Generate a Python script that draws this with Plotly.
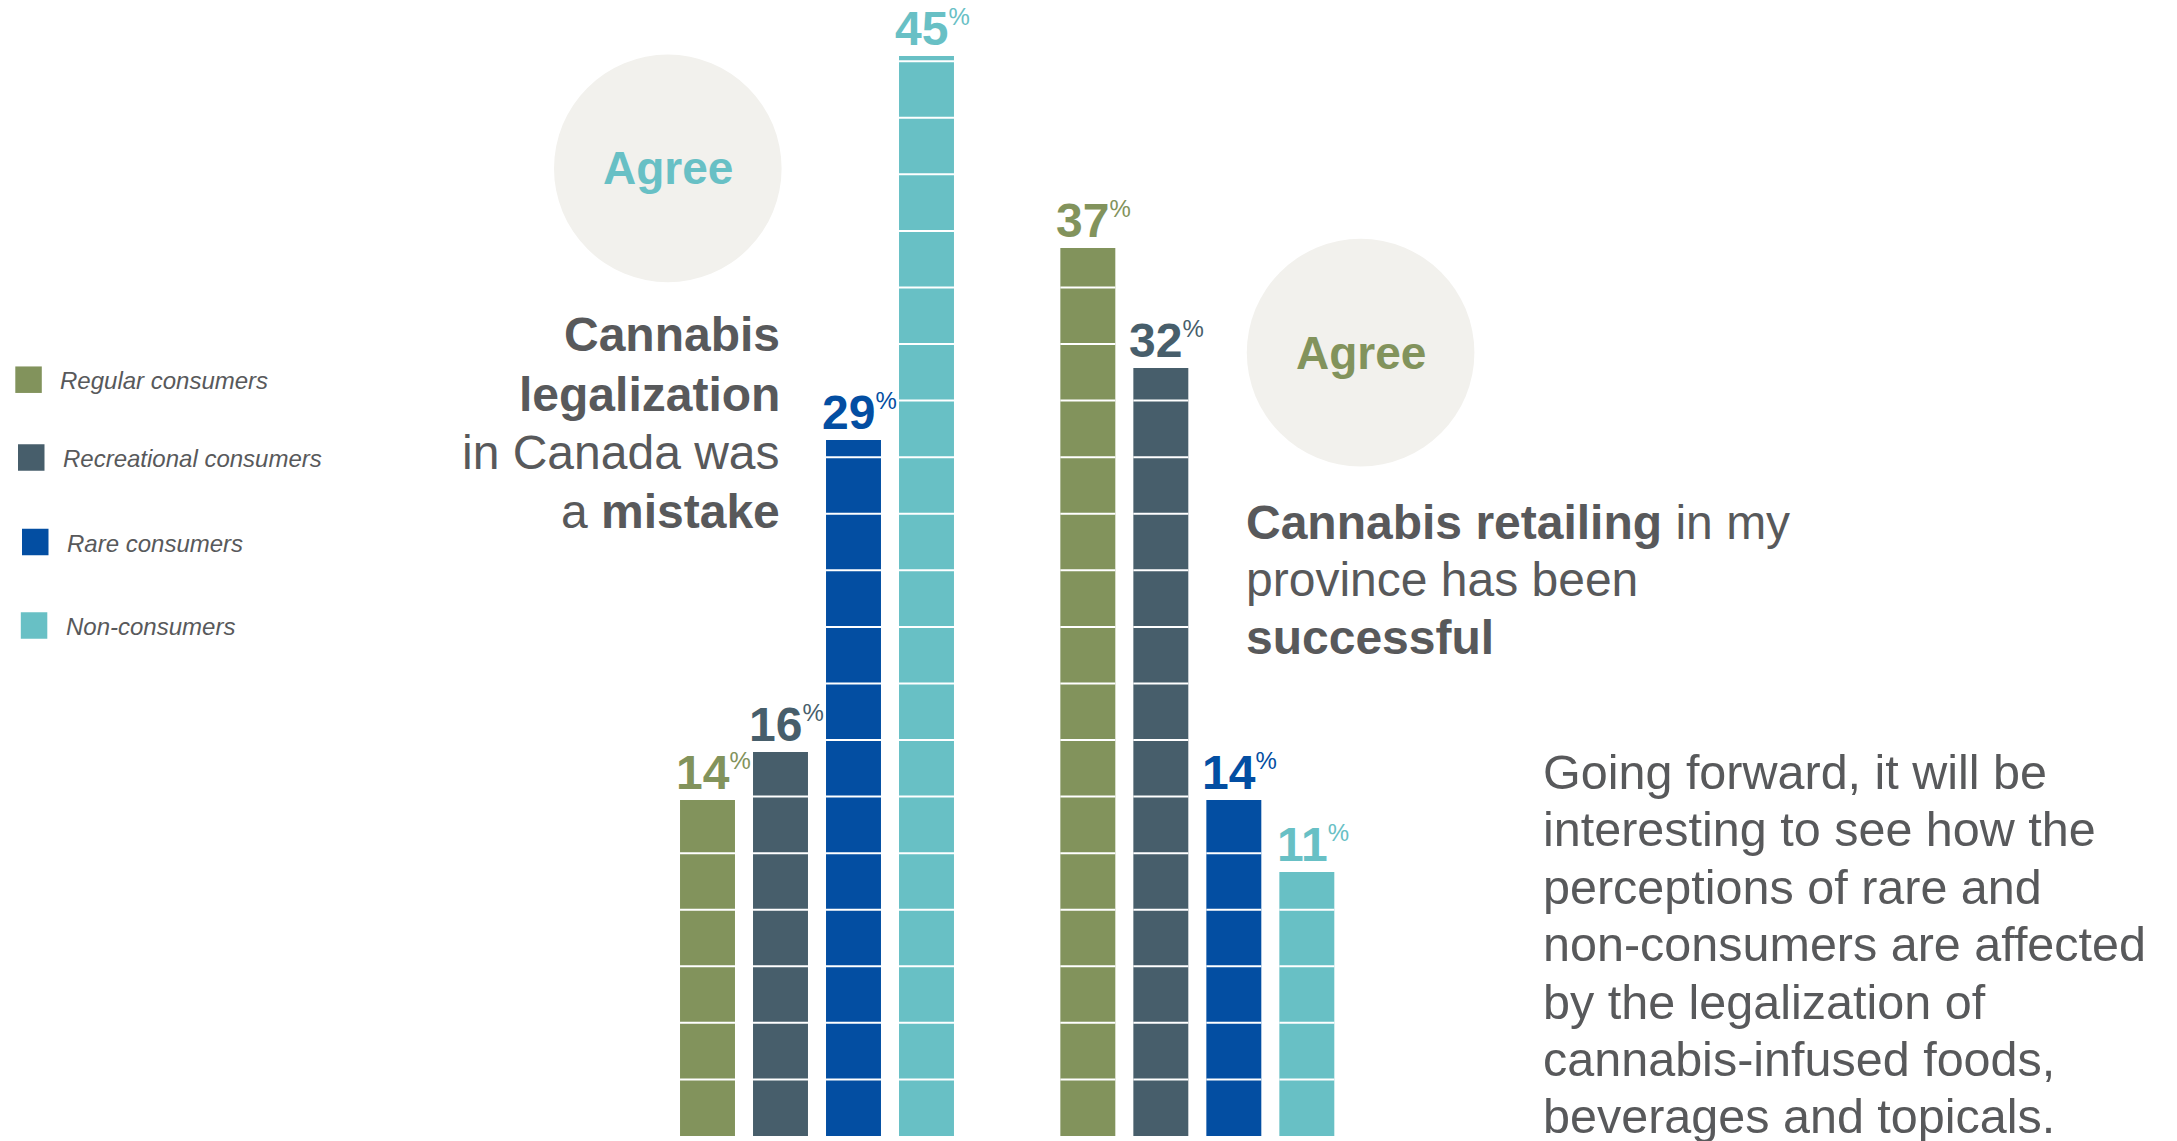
import plotly.graph_objects as go

W, H = 2177, 1141
FONT = "Liberation Sans, Arial, Helvetica, sans-serif"
GRAY = "#58595B"

# ---------------- data ----------------
consumer_types = ["Regular consumers", "Recreational consumers", "Rare consumers", "Non-consumers"]
legalization_mistake = [14, 16, 29, 45]      # % agree: legalization was a mistake
retail_successful = [37, 32, 14, 11]         # % agree: retailing has been successful
colors = ["#82935C", "#475E6B", "#034EA2", "#68C0C5"]
agree_colors = ["#68C0C5", "#82935C"]

left_title = ["<b>Cannabis</b>", "<b>legalization</b>", "in Canada was", "a <b>mistake</b>"]
right_title = ["<b>Cannabis retailing</b> in my", "province has been", "<b>successful</b>"]
paragraph = ["Going forward, it will be",
             "interesting to see how the",
             "perceptions of rare and",
             "non-consumers are affected",
             "by the legalization of",
             "cannabis-infused foods,",
             "beverages and topicals."]

# ---------------- layout helpers ----------------
group_offsets = [0.0, 5.21]
bar_width = 0.753
seg = 2.357          # height of each stacked block (white divider pitch)


def px_x(p):
    return p / W


def px_y(p):
    return 1 - p / H


fig = go.Figure()
shapes = []
annotations = []

# background circles
circle_centers = [(667.8, 168.4), (1360.6, 352.6)]
for cx, cy in circle_centers:
    r = 113.8
    shapes.append(dict(type="circle", xref="paper", yref="paper",
                       x0=px_x(cx - r), x1=px_x(cx + r), y0=px_y(cy + r), y1=px_y(cy - r),
                       fillcolor="#F2F1ED", line=dict(width=0), layer="below"))

for i, name in enumerate(consumer_types):
    xs = [group_offsets[0] + i, group_offsets[1] + i]
    ys = [legalization_mistake[i], retail_successful[i]]
    fig.add_trace(go.Bar(x=xs, y=ys, width=bar_width, name=name,
                         marker=dict(color=colors[i], line=dict(width=0)),
                         showlegend=False, hoverinfo="skip"))
    for x, v in zip(xs, ys):
        # white dividers inside the bar
        k = 1
        while k * seg < v - 0.05:
            shapes.append(dict(type="line", xref="x", yref="y",
                               x0=x - bar_width / 2, x1=x + bar_width / 2,
                               y0=k * seg, y1=k * seg,
                               line=dict(color="white", width=2), layer="above"))
            k += 1
        annotations.append(dict(
            x=x, y=v, xref="x", yref="y", xanchor="center", yanchor="bottom",
            xshift=6, yshift=-1, showarrow=False,
            text=f"<b>{v}</b><sup><span style='font-size:24px'>%</span></sup>",
            font=dict(family=FONT, size=48, color=colors[i])))

# "Agree" labels in circles
for (cx, cy), c in zip(circle_centers, agree_colors):
    annotations.append(dict(x=px_x(cx), y=px_y(cy), xref="paper", yref="paper",
                            xanchor="center", yanchor="middle", showarrow=False,
                            text="<b>Agree</b>", font=dict(family=FONT, size=46, color=c)))

# statement titles
for line, yp in zip(left_title, [334.6, 394.0, 452.6, 511.0]):
    annotations.append(dict(x=px_x(782), y=px_y(yp), xref="paper", yref="paper",
                            xanchor="right", yanchor="middle", showarrow=False,
                            text=line, font=dict(family=FONT, size=48, color=GRAY)))
for line, yp in zip(right_title, [522.0, 579.5, 637.0]):
    annotations.append(dict(x=px_x(1244), y=px_y(yp), xref="paper", yref="paper",
                            xanchor="left", yanchor="middle", showarrow=False,
                            text=line, font=dict(family=FONT, size=48, color=GRAY)))
for k, line in enumerate(paragraph):
    annotations.append(dict(x=px_x(1541), y=px_y(772 + 57.4 * k), xref="paper", yref="paper",
                            xanchor="left", yanchor="middle", showarrow=False,
                            text=line, font=dict(family=FONT, size=48.5, color=GRAY)))

# custom legend
leg_sq = [(15.3, 379.7), (18.0, 457.5), (22.0, 542.0), (20.8, 625.5)]
leg_tx = [58.0, 60.5, 64.5, 63.5]
for name, c, (sx, sy), tx in zip(consumer_types, colors, leg_sq, leg_tx):
    s = 26.5
    shapes.append(dict(type="rect", xref="paper", yref="paper",
                       x0=px_x(sx), x1=px_x(sx + s), y0=px_y(sy + s / 2), y1=px_y(sy - s / 2),
                       fillcolor=c, line=dict(width=0), layer="above"))
    annotations.append(dict(x=px_x(tx), y=px_y(sy + 1), xref="paper", yref="paper",
                            xanchor="left", yanchor="middle", showarrow=False,
                            text=f"<i>{name}</i>", font=dict(family=FONT, size=24, color=GRAY)))

# axis mapping: x=0 at 707.5px, 73px per unit; y=0 at 1136px, 24px per unit
x_unit, x0_px = 73.0, 707.5
y_unit, y0_px = 24.0, 1136.0
fig.update_layout(
    width=W, height=H,
    margin=dict(l=0, r=0, t=0, b=0),
    paper_bgcolor="white", plot_bgcolor="white",
    barmode="overlay",
    xaxis=dict(range=[-x0_px / x_unit, (W - x0_px) / x_unit], visible=False, fixedrange=True),
    yaxis=dict(range=[-(H - y0_px) / y_unit, y0_px / y_unit], visible=False, fixedrange=True),
    shapes=shapes, annotations=annotations,
    font=dict(family=FONT, color=GRAY),
    showlegend=False,
)

fig.write_html("out.html")
